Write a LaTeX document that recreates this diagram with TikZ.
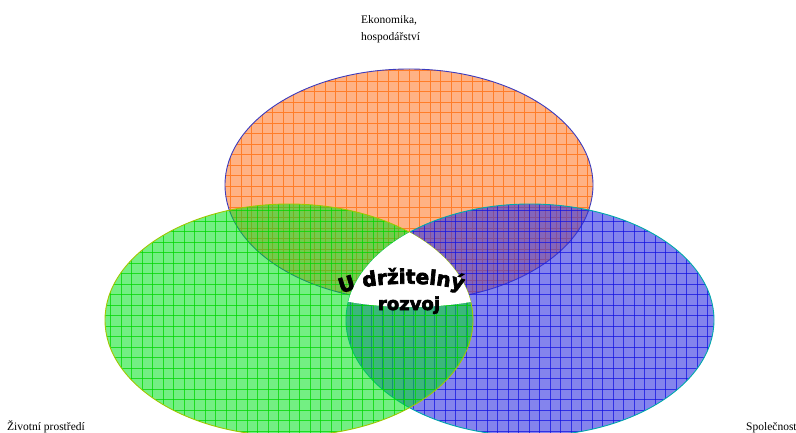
\documentclass[tikz,border=0pt]{standalone}
\usepackage{fontspec}
\setmainfont{Liberation Serif}
\newfontfamily\archfont[BoldFeatures={FakeBold=3.5}]{DejaVu Sans}
\usetikzlibrary{decorations.text}
\definecolor{orfill}{RGB}{255,178,132}
\definecolor{orline}{RGB}{255,125,40}
\definecolor{orrim}{RGB}{60,60,190}
\definecolor{grfill}{RGB}{0,225,30}
\definecolor{grline}{RGB}{0,215,0}
\definecolor{grrim}{RGB}{160,200,0}
\definecolor{blfill}{RGB}{50,50,225}
\definecolor{blline}{RGB}{20,20,225}
\definecolor{blrim}{RGB}{0,170,170}
\begin{document}
\begin{tikzpicture}[x=1pt,y=-1pt,
  lbl/.style={font=\fontsize{11.5}{13}\selectfont, inner sep=0pt, anchor=base west},
  gridline/.style={line width=0.9},
  rim/.style={line width=0.9}]
\useasboundingbox (0,0) rectangle (796,433);
\clip (0,0) rectangle (796,433);
% orange ellipse (economy)
\fill[orfill] (409,185) ellipse [x radius=184, y radius=116];
\begin{scope}
  \clip (409,185) ellipse [x radius=184, y radius=116];
  \foreach \k in {0,...,37} \draw[orline, gridline] ({220+10.5*\k},60) -- ({220+10.5*\k},310);
  \foreach \k in {0,...,24} \draw[orline, gridline] (220,{60+10.5*\k}) -- (600,{60+10.5*\k});
\end{scope}
\draw[orrim, rim] (409,185) ellipse [x radius=184, y radius=116];
% blue ellipse (society)
\fill[blfill, fill opacity=0.6] (530,320) ellipse [x radius=184, y radius=116];
\begin{scope}
  \clip (530,320) ellipse [x radius=184, y radius=116];
  \foreach \k in {0,...,37} \draw[blline, gridline, draw opacity=0.75] ({340+10.5*\k},200) -- ({340+10.5*\k},440);
  \foreach \k in {0,...,23} \draw[blline, gridline, draw opacity=0.75] (340,{200+10.5*\k}) -- (720,{200+10.5*\k});
\end{scope}
\draw[blrim, rim] (530,320) ellipse [x radius=184, y radius=116];
% green ellipse (environment)
\fill[grfill, fill opacity=0.55] (289,320) ellipse [x radius=184, y radius=116];
\begin{scope}
  \clip (289,320) ellipse [x radius=184, y radius=116];
  \foreach \k in {0,...,37} \draw[grline, gridline, draw opacity=0.75] ({100+10.5*\k},200) -- ({100+10.5*\k},440);
  \foreach \k in {0,...,23} \draw[grline, gridline, draw opacity=0.75] (100,{200+10.5*\k}) -- (480,{200+10.5*\k});
\end{scope}
\draw[grrim, rim] (289,320) ellipse [x radius=184, y radius=116];
% white centre
\begin{scope}
  \clip (530,320) ellipse [x radius=184, y radius=116];
  \clip (289,320) ellipse [x radius=184, y radius=116];
  \fill[white] (330,220) -- (490,220) -- (490,298) .. controls (440,310) and (380,310) .. (330,298) -- cycle;
\end{scope}
% arched title
\path[decorate, decoration={text along path, text align=center,
  text={|\archfont\bfseries\fontsize{20}{20}\selectfont|U držitelný}}]
  (332,300) .. controls (348,280) and (452,278) .. (472,296);
\node[font=\archfont\bfseries\fontsize{18}{18}\selectfont, anchor=base, inner sep=0pt] (rz) at (409,310) {rozvoj};
% labels
\node[lbl] (eko) at (361,24) {Ekonomika,};
\node[lbl] (hosp) at (361,41) {hospodářství};
\node[lbl] (ziv) at (7,430) {Životní prostředí};
\node[lbl] (spol) at (746,430) {Společnost};
\end{tikzpicture}
\end{document}
